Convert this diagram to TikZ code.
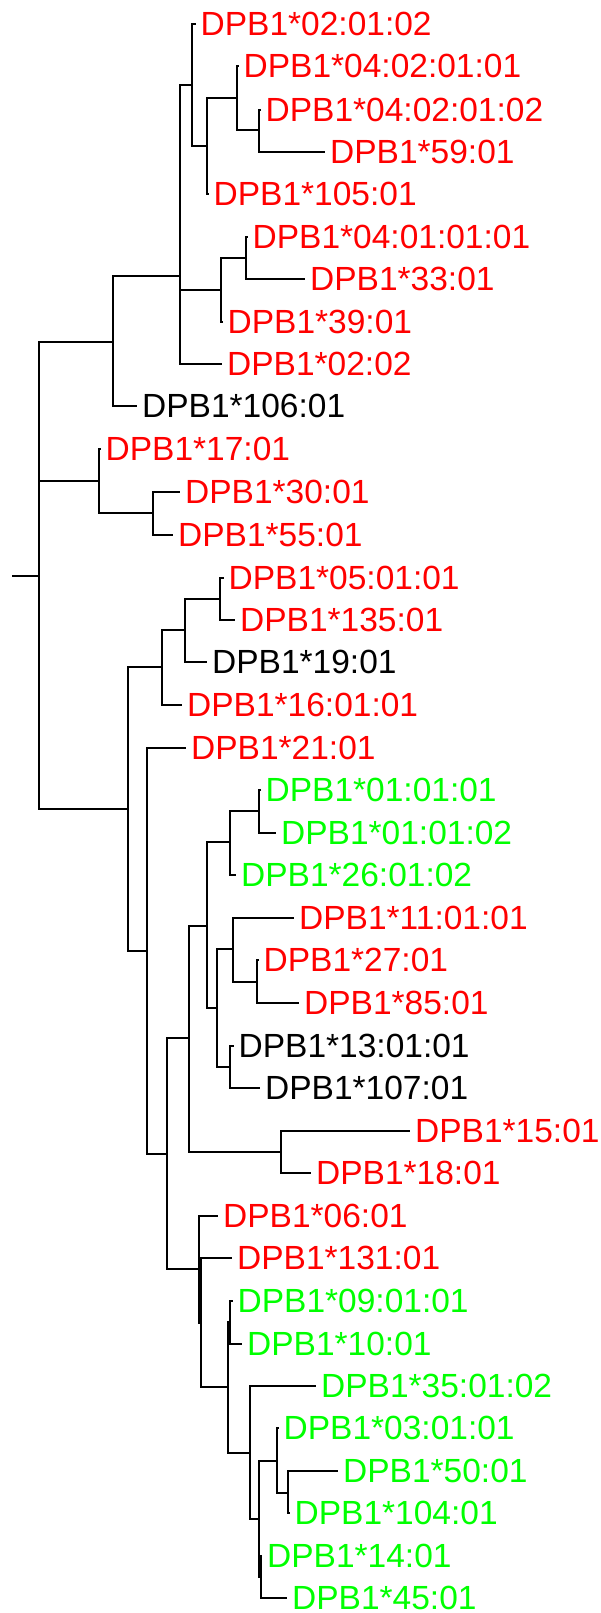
\documentclass[tikz,border=0pt]{standalone}
\usepackage{fontspec}
\setmainfont{Liberation Sans}
\begin{document}
\begin{tikzpicture}[x=1pt, y=-1pt,
    branch/.style={line width=1.4pt},
    allele/.style={anchor=west, inner xsep=5pt, inner ysep=0pt, font=\fontsize{33.5}{40}\selectfont},
    alleleR/.style={allele, text=red},
    alleleG/.style={allele, text=green}]
    \useasboundingbox (0,0) rectangle (601,1613);
    % inner nodes of the tree
    \coordinate (stub) at (12,576);
    \coordinate (root) at (39,576);
    \coordinate (cA) at (113,342);
    \coordinate (cA1) at (180,276);
    \coordinate (cA11) at (192,85);
    \coordinate (cA111) at (207,146);
    \coordinate (cA1111) at (237,98);
    \coordinate (cA11111) at (259,130);
    \coordinate (cA12) at (221,290);
    \coordinate (cA121) at (246,258);
    \coordinate (cB) at (99,481);
    \coordinate (cB1) at (153,513);
    \coordinate (cC) at (128,809);
    \coordinate (cC1) at (162,667);
    \coordinate (cC11) at (185,630);
    \coordinate (cC111) at (220,599);
    \coordinate (cC2) at (147,951);
    \coordinate (cC21) at (167,1154);
    \coordinate (cC211) at (189,1038);
    \coordinate (cC2111) at (207,926);
    \coordinate (cC21111) at (230,842);
    \coordinate (cC211111) at (259,811);
    \coordinate (cC21112) at (217,1008);
    \coordinate (cC211121) at (233,949);
    \coordinate (cC2111211) at (257,982);
    \coordinate (cC211122) at (230,1067);
    \coordinate (cC2112) at (281,1152);
    \coordinate (cC212) at (199,1269);
    \coordinate (cC2120) at (201,1323);
    \coordinate (cC2121) at (228,1387);
    \coordinate (cC21210) at (230,1322);
    \coordinate (cC21211) at (250,1453);
    \coordinate (cC212111) at (259,1519);
    \coordinate (cC2121111) at (277,1461);
    \coordinate (cC21211111) at (288,1493);
    \coordinate (cC2121112) at (261,1577);
    % leaves
    \node[alleleR] (a020102) at (195.5,24) {DPB1*02:01:02};
    \node[alleleR] (a04020101) at (238.5,66) {DPB1*04:02:01:01};
    \node[alleleR] (a04020102) at (260.5,110) {DPB1*04:02:01:02};
    \node[alleleR] (a5901) at (325,152) {DPB1*59:01};
    \node[alleleR] (a10501) at (208.5,194) {DPB1*105:01};
    \node[alleleR] (a04010101) at (247.5,237) {DPB1*04:01:01:01};
    \node[alleleR] (a3301) at (305,279) {DPB1*33:01};
    \node[alleleR] (a3901) at (222.5,322) {DPB1*39:01};
    \node[alleleR] (a0202) at (222,364) {DPB1*02:02};
    \node[allele] (a10601) at (137,406) {DPB1*106:01};
    \node[alleleR] (a1701) at (100.5,449) {DPB1*17:01};
    \node[alleleR] (a3001) at (180,492) {DPB1*30:01};
    \node[alleleR] (a5501) at (173,535) {DPB1*55:01};
    \node[alleleR] (a050101) at (223.5,578) {DPB1*05:01:01};
    \node[alleleR] (a13501) at (235,620) {DPB1*135:01};
    \node[allele] (a1901) at (207,662) {DPB1*19:01};
    \node[alleleR] (a160101) at (182,705) {DPB1*16:01:01};
    \node[alleleR] (a2101) at (186,748) {DPB1*21:01};
    \node[alleleG] (a010101) at (260.5,790) {DPB1*01:01:01};
    \node[alleleG] (a010102) at (276,833) {DPB1*01:01:02};
    \node[alleleG] (a260102) at (236,875) {DPB1*26:01:02};
    \node[alleleR] (a110101) at (294,918) {DPB1*11:01:01};
    \node[alleleR] (a2701) at (258.5,960) {DPB1*27:01};
    \node[alleleR] (a8501) at (299,1003) {DPB1*85:01};
    \node[allele] (a130101) at (233.5,1046) {DPB1*13:01:01};
    \node[allele] (a10701) at (260,1088) {DPB1*107:01};
    \node[alleleR] (a1501) at (410,1131) {DPB1*15:01};
    \node[alleleR] (a1801) at (311,1173) {DPB1*18:01};
    \node[alleleR] (a0601) at (218,1216) {DPB1*06:01};
    \node[alleleR] (a13101) at (232,1258) {DPB1*131:01};
    \node[alleleG] (a090101) at (232.5,1301) {DPB1*09:01:01};
    \node[alleleG] (a1001) at (242,1344) {DPB1*10:01};
    \node[alleleG] (a350102) at (316,1386) {DPB1*35:01:02};
    \node[alleleG] (a030101) at (278.5,1428) {DPB1*03:01:01};
    \node[alleleG] (a5001) at (338,1471) {DPB1*50:01};
    \node[alleleG] (a10401) at (289.5,1513) {DPB1*104:01};
    \node[alleleG] (a1401) at (262,1556) {DPB1*14:01};
    \node[alleleG] (a4501) at (287,1598) {DPB1*45:01};
    % branches
    \draw[branch] (stub) -- (root);
    \foreach \p/\c in {root/cA, root/cB, root/cC,
        cA/cA1, cA/a10601, cA1/cA11, cA1/cA12, cA1/a0202,
        cA11/a020102, cA11/cA111, cA111/cA1111, cA111/a10501,
        cA1111/a04020101, cA1111/cA11111, cA11111/a04020102, cA11111/a5901,
        cA12/cA121, cA12/a3901, cA121/a04010101, cA121/a3301,
        cB/a1701, cB/cB1, cB1/a3001, cB1/a5501,
        cC/cC1, cC/cC2, cC1/cC11, cC1/a160101, cC11/cC111, cC11/a1901,
        cC111/a050101, cC111/a13501, cC2/a2101, cC2/cC21,
        cC21/cC211, cC21/cC212, cC211/cC2111, cC211/cC2112,
        cC2112/a1501, cC2112/a1801, cC2111/cC21111, cC2111/cC21112,
        cC21111/cC211111, cC21111/a260102, cC211111/a010101, cC211111/a010102,
        cC21112/cC211121, cC21112/cC211122, cC211121/a110101, cC211121/cC2111211,
        cC2111211/a2701, cC2111211/a8501, cC211122/a130101, cC211122/a10701,
        cC212/a0601, cC212/cC2120, cC2120/a13101, cC2120/cC2121,
        cC2121/cC21210, cC2121/cC21211, cC21210/a090101, cC21210/a1001,
        cC21211/a350102, cC21211/cC212111, cC212111/cC2121111, cC212111/cC2121112,
        cC2121111/a030101, cC2121111/cC21211111, cC21211111/a5001, cC21211111/a10401,
        cC2121112/a1401, cC2121112/a4501}
        \draw[branch] (\p) |- (\c);
\end{tikzpicture}
\end{document}
